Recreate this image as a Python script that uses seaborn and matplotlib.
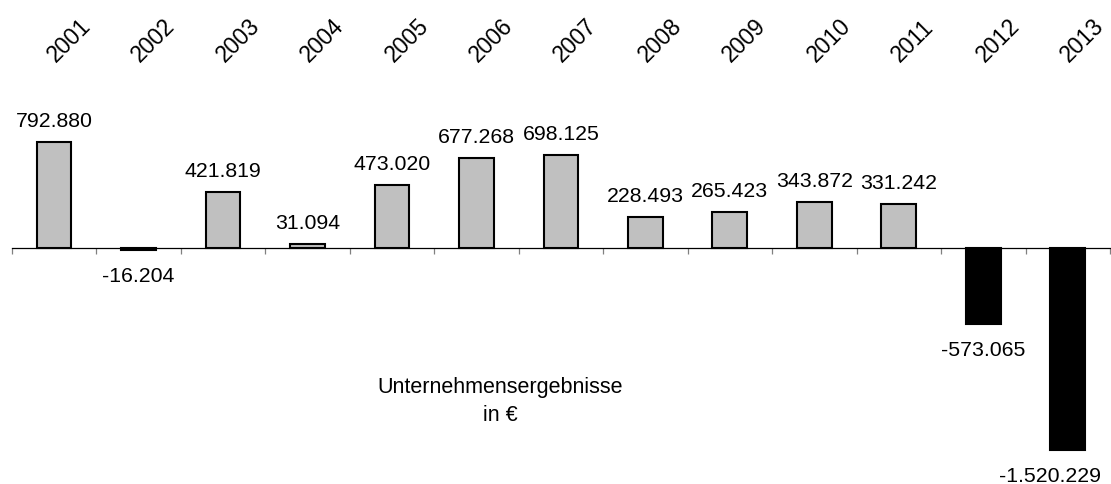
import numpy as np
import matplotlib
matplotlib.use("Agg")
import matplotlib.pyplot as plt
import seaborn as sns

# Jahresergebnisse des Unternehmens in Euro
years = ["2001", "2002", "2003", "2004", "2005", "2006", "2007",
         "2008", "2009", "2010", "2011", "2012", "2013"]
values = [792880, -16204, 421819, 31094, 473020, 677268, 698125,
          228493, 265423, 343872, 331242, -573065, -1520229]
title_lines = ["Unternehmensergebnisse", "in €"]

sns.set_theme(style="white")
plt.rcParams["font.family"] = ["Liberation Sans", "DejaVu Sans"]

W, H, DPI = 1111, 484, 100
fig = plt.figure(figsize=(W / DPI, H / DPI), dpi=DPI)
left_px, right_px = 11.7, 1110.0
ax = fig.add_axes([left_px / W, 0, (right_px - left_px) / W, 1])

sign = ["pos" if v >= 0 else "neg" for v in values]
sns.barplot(x=years, y=values, hue=sign, palette={"pos": "#c0c0c0", "neg": "black"},
            width=0.41, edgecolor="black", linewidth=1.5, dodge=False,
            legend=False, ax=ax)

units_per_px = 7520
zero_px = 247.7
ax.set_xlim(-0.5, len(years) - 0.5)
ax.set_ylim(-(H - zero_px) * units_per_px, zero_px * units_per_px)

for s in ["top", "left", "right"]:
    ax.spines[s].set_visible(False)
ax.spines["bottom"].set_position(("data", 0))
ax.spines["bottom"].set_color("black")
ax.spines["bottom"].set_linewidth(0.9)
ax.set_xticks(np.arange(-0.5, len(years), 1.0))
ax.tick_params(axis="x", direction="out", length=4, width=0.9, color="#808080",
               labelbottom=False, bottom=True)
ax.set_yticks([])
ax.set_xlabel("")
ax.set_ylabel("")

fs = 15.3
def fmt(v):
    return f"{v:,}".replace(",", ".")

for i, v in enumerate(values):
    dx = -18 if i == len(values) - 1 else 0
    if v >= 0:
        ax.annotate(fmt(v), xy=(i, v), xytext=(dx, 15), textcoords="offset pixels",
                    ha="center", va="baseline", fontsize=fs, color="black",
                    annotation_clip=False)
    else:
        ax.annotate(fmt(v), xy=(i, v), xytext=(dx, -17), textcoords="offset pixels",
                    ha="center", va="top", fontsize=fs, color="black",
                    annotation_clip=False)

# Jahreszahlen schräg oberhalb der Säulen
for i, y in enumerate(years):
    ax.annotate(y, xy=(i, 1), xycoords=("data", "axes fraction"),
                xytext=(1.5, -63), textcoords="offset pixels",
                rotation=45, rotation_mode="anchor", ha="left", va="baseline",
                fontsize=16.5, color="black", annotation_clip=False)

fig.text(500 / W, 1 - 421 / H, "\n".join(title_lines), ha="center", va="baseline",
         fontsize=15.5, color="black", linespacing=1.45, multialignment="center")

fig.savefig("out.png", dpi=DPI, facecolor="white")
